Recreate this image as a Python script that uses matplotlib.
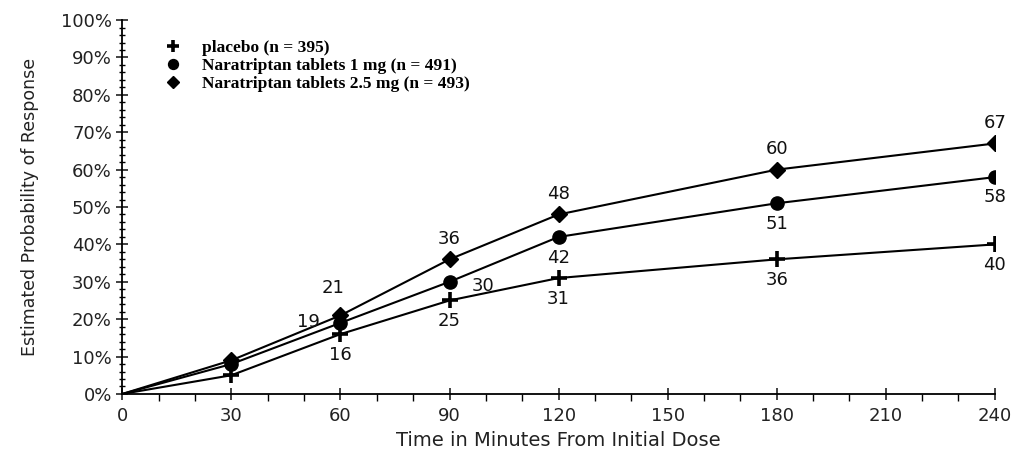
import numpy as np
import matplotlib
matplotlib.use('Agg')
import matplotlib.pyplot as plt
from matplotlib.ticker import MultipleLocator, FuncFormatter

# data (percent)
minutes = [0, 30, 60, 90, 120, 180, 240]
placebo = [0, 5, 16, 25, 31, 36, 40]
nara_1mg = [0, 8, 19, 30, 42, 51, 58]
nara_25mg = [0, 9, 21, 36, 48, 60, 67]

series_names = ['placebo (n = 395)',
                'Naratriptan tablets 1 mg (n = 491)',
                'Naratriptan tablets 2.5 mg (n = 493)']

# which points carry a value label, and where it sits (offset in points)
lab_placebo = {60: (0, -15), 90: (0, -15), 120: (0, -15), 180: (0, -15), 240: (0, -15)}
lab_1mg = {60: (-23, 1), 90: (24, -3), 120: (0, -15), 180: (0, -15), 240: (0, -14)}
lab_25mg = {60: (-5, 20), 90: (0, 15), 120: (0, 15), 180: (0, 15), 240: (0, 15)}

fig = plt.figure(figsize=(10.11, 4.57), dpi=100)
ax = fig.add_axes([0.121, 0.138, 0.863, 0.818])

styles = [dict(marker='+', markersize=11, markeredgewidth=2.6),
          dict(marker='o', markersize=9.5),
          dict(marker='D', markersize=8.5)]
for ys, st, name in zip([placebo, nara_1mg, nara_25mg], styles, series_names):
    ax.plot(minutes[1:], ys[1:], color='black', lw=1.5, linestyle='none',
            markerfacecolor='black', markeredgecolor='black', label=name, **st)
    ax.plot(minutes, ys, color='black', lw=1.5)

for ys, labs in [(placebo, lab_placebo), (nara_1mg, lab_1mg), (nara_25mg, lab_25mg)]:
    for x, y in zip(minutes, ys):
        if x in labs:
            ax.annotate(str(y), (x, y), textcoords='offset points', xytext=labs[x],
                        ha='center', va='center', fontsize=13, color='#111111')

ax.set_xlim(0, 240)
ax.set_ylim(0, 100)
ax.xaxis.set_major_locator(MultipleLocator(30))
ax.xaxis.set_minor_locator(MultipleLocator(10))
ax.yaxis.set_major_locator(MultipleLocator(10))
ax.yaxis.set_minor_locator(MultipleLocator(2))
ax.yaxis.set_major_formatter(FuncFormatter(lambda v, p: '%d%%' % v))

for s in ['top', 'right']:
    ax.spines[s].set_visible(False)
ax.spines['left'].set_linewidth(1.3)
ax.spines['bottom'].set_linewidth(1.3)
ax.tick_params(axis='both', which='major', direction='inout', length=9, width=1.2,
               labelsize=13, colors='#222222')
ax.tick_params(axis='y', which='minor', direction='inout', length=5, width=1)
ax.tick_params(axis='x', which='minor', direction='out', length=5, width=1)
ax.tick_params(axis='x', which='major', pad=5)
ax.tick_params(axis='y', which='major', pad=3)

ax.set_xlabel('Time in Minutes From Initial Dose', fontsize=14, color='#222222', labelpad=4)
ax.set_ylabel('Estimated Probability of Response', fontsize=12.5, color='#222222', labelpad=16)

ax.legend(loc='upper left', bbox_to_anchor=(0.03, 0.99), frameon=False,
          prop={'family': 'Liberation Serif', 'weight': 'bold', 'size': 12.5},
          handlelength=1.0, handletextpad=1.2, labelspacing=0.12, markerscale=0.75)

fig.savefig('out.png', dpi=100)
